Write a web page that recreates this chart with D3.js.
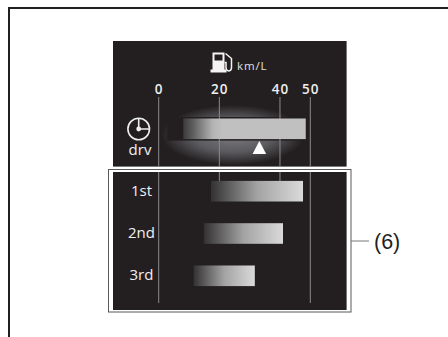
<!DOCTYPE html>
<html><head><meta charset="utf-8">
<style>html,body{margin:0;padding:0;background:#fff}svg{display:block}</style>
<script src="https://cdn.jsdelivr.net/npm/d3@7"></script></head>
<body><svg id="c" width="448" height="337"></svg>
<script>
const tickValues = [0, 20, 40, 50];
const rowLabels = ["drv", "1st", "2nd", "3rd"];
const barStarts = [8.1, 17.25, 14.9, 11.5];
const barEnds = [48.5, 47.6, 41, 31.7];
const markerValue = 33.2;
const unitLabel = "km/L";
const calloutLabel = "(6)";

const svg = d3.select("#c");
const x = d3.scaleLinear().domain([0, 50]).range([158.7, 310.3]);
const y = d3.scaleOrdinal().domain(rowLabels).range([128.8, 191.2, 233.5, 275.8]);
const barH = 20.6;
const font = "'Open Sans', 'Noto Sans', sans-serif";
const defs = svg.append("defs");

const glow = defs.append("radialGradient").attr("id", "glow");
glow.append("stop").attr("offset", "0%").attr("stop-color", "#7b7b7e");
glow.append("stop").attr("offset", "55%").attr("stop-color", "#5c5c60");
glow.append("stop").attr("offset", "100%").attr("stop-color", "#231f20");

function barGrad(id, stops) {
  const g = defs.append("linearGradient").attr("id", id);
  stops.forEach(s => g.append("stop").attr("offset", s[0]).attr("stop-color", s[1]));
}
barGrad("g0", [["0%", "#3c3a3b"], ["8%", "#5f5e5f"], ["24%", "#b4b4b5"], ["32%", "#c0c0c1"], ["100%", "#c0c0c1"]]);
barGrad("g1", [["0%", "#333132"], ["50%", "#a3a3a4"], ["100%", "#dadada"]]);

// page frame
svg.append("path").attr("d", "M9,337V8H448").attr("fill", "none").attr("stroke", "#231f20").attr("stroke-width", 2);

// panels
svg.append("rect").attr("x", 113).attr("y", 41).attr("width", 233.6).attr("height", 125.6).attr("fill", "#231f20");
svg.append("rect").attr("x", 108.5).attr("y", 169.5).attr("width", 242.5).attr("height", 142.5).attr("fill", "#fff").attr("stroke", "#58595b").attr("stroke-width", 1);
svg.append("rect").attr("x", 113).attr("y", 172).attr("width", 233.6).attr("height", 138).attr("fill", "#231f20");

// glow
svg.append("ellipse").attr("cx", 233).attr("cy", 135).attr("rx", 72).attr("ry", 30).attr("fill", "url(#glow)");
// dark band hugging the bar
svg.append("rect").attr("x", x(barStarts[0]) - 16).attr("y", y("drv") - barH / 2 - 1.5)
  .attr("width", x(barEnds[0]) - x(barStarts[0]) + 16).attr("height", barH + 3).attr("fill", "#231f20");

// grid lines
tickValues.forEach(t => {
  const full = t === 0 || t === 50;
  const bottom = full ? 303 : 181;
  [[97, 166.6], [172, bottom]].forEach(s =>
    svg.append("line").attr("x1", x(t)).attr("x2", x(t)).attr("y1", s[0]).attr("y2", s[1])
      .attr("stroke", "#8a8a8c").attr("stroke-width", 1));
});

// tick labels
svg.selectAll("text.tick").data(tickValues).join("text").attr("class", "tick")
  .attr("x", d => x(d) + 0.5).attr("y", 93.5).attr("text-anchor", "middle")
  .attr("font-family", font).attr("font-size", 13.5).attr("font-weight", 600).attr("letter-spacing", 1).attr("fill", "#eeeeee").text(d => d);

// bars
svg.selectAll("rect.bar").data(rowLabels).join("rect").attr("class", "bar")
  .attr("x", (d, i) => x(barStarts[i]))
  .attr("width", (d, i) => x(barEnds[i]) - x(barStarts[i]))
  .attr("y", d => y(d) - barH / 2).attr("height", barH)
  .attr("fill", (d, i) => i === 0 ? "url(#g0)" : "url(#g1)");

// marker
svg.append("path").attr("transform", `translate(${x(markerValue)},147.5)`)
  .attr("d", "M0,-6.5L6.8,6.5H-6.8Z").attr("fill", "#fff");

// row labels
svg.selectAll("text.row").data(rowLabels).join("text").attr("class", "row")
  .attr("x", d => d === "drv" ? 140 : 141.5).attr("y", d => d === "drv" ? 155 : y(d) + 4.5).attr("text-anchor", "middle")
  .attr("font-family", font).attr("font-size", 15).attr("fill", "#f0f0f0").text(d => d);

// clock icon
const clock = svg.append("g").attr("transform", "translate(138.7,129)").attr("fill", "none").attr("stroke", "#eee").attr("stroke-width", 1.6);
clock.append("circle").attr("r", 10.8);
clock.append("path").attr("d", "M0,-10.8V0H10.8");
clock.append("circle").attr("r", 1.6).attr("fill", "#eee");

// fuel icon
const fuel = svg.append("g").attr("transform", "translate(210.5,52.5)");
fuel.append("path").attr("d", "M2,0H14V17H16V20H0V17H2Z").attr("fill", "#f4f4f4");
fuel.append("rect").attr("x", 4).attr("y", 2).attr("width", 8).attr("height", 6).attr("fill", "#231f20");
fuel.append("path").attr("d", "M15,1L21,6V15C21,19.5 15.5,19.5 15.5,15V10H14").attr("fill", "none").attr("stroke", "#f4f4f4").attr("stroke-width", 1.5);

svg.append("text").attr("x", 237).attr("y", 70).attr("font-family", font).attr("font-size", 11.5).attr("letter-spacing", 0.9).attr("fill", "#e0e0e0").text(unitLabel);

// callout
svg.append("line").attr("x1", 351).attr("x2", 369).attr("y1", 241).attr("y2", 241).attr("stroke", "#77787b").attr("stroke-width", 1);
svg.append("text").attr("x", 374).attr("y", 249).attr("font-family", "'Liberation Sans', Arial, sans-serif").attr("font-size", 21.5).attr("fill", "#231f20").text(calloutLabel);
</script></body></html>
